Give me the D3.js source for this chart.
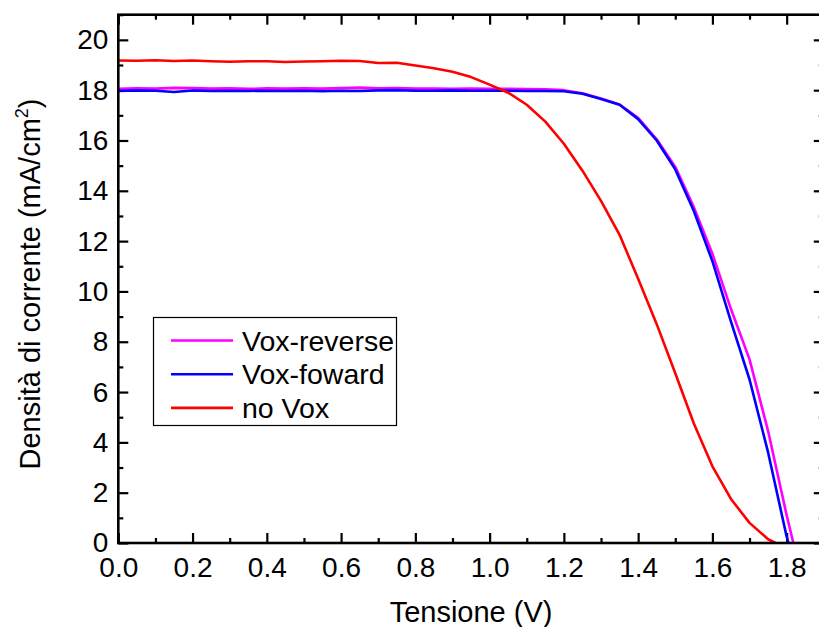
<!DOCTYPE html>
<html lang="it">
  <head>
    <meta charset="utf-8">
    <script src="https://cdn.jsdelivr.net/npm/d3@7"></script>
    <style>
      body { margin: 0; background: #fff; }
      svg { display: block; font-family: "Liberation Sans", Arial, sans-serif; }
      .axis text { font-size: 28px; fill: #000; }
    </style>
  </head>
  <body>
    <svg id="chart" width="819" height="627"></svg>
    <script>

      // tensione (V) e densità di corrente (mA/cm2)
      var vReverse = [0, 0.05, 0.1, 0.15, 0.2, 0.25, 0.3, 0.35, 0.4, 0.45, 0.5, 0.55, 0.6, 0.65,
                      0.7, 0.75, 0.8, 0.85, 0.9, 0.95, 1.0, 1.05, 1.1, 1.15, 1.2, 1.25, 1.3, 1.35,
                      1.4, 1.45, 1.5, 1.55, 1.6, 1.65, 1.7, 1.75, 1.8, 1.818],
          jReverse = [18.05, 18.07, 18.06, 18.09, 18.08, 18.06, 18.07, 18.05, 18.07, 18.06, 18.07, 18.06, 18.08, 18.1,
                      18.07, 18.08, 18.06, 18.06, 18.05, 18.06, 18.05, 18.05, 18.04, 18.03, 18.0, 17.88, 17.67, 17.43,
                      16.9, 16.05, 14.95, 13.35, 11.5, 9.3, 7.3, 4.45, 1.1, 0];

      var vForward = [0, 0.05, 0.1, 0.15, 0.2, 0.25, 0.3, 0.35, 0.4, 0.45, 0.5, 0.55, 0.6, 0.65,
                      0.7, 0.75, 0.8, 0.85, 0.9, 0.95, 1.0, 1.05, 1.1, 1.15, 1.2, 1.25, 1.3, 1.35,
                      1.4, 1.45, 1.5, 1.55, 1.6, 1.65, 1.7, 1.75, 1.8, 1.805],
          jForward = [17.97, 17.99, 17.98, 17.93, 17.99, 17.97, 17.98, 17.97, 17.98, 17.97, 17.98, 17.96, 17.98, 17.97,
                      17.99, 18.0, 17.98, 17.98, 17.99, 17.98, 17.98, 17.98, 17.97, 17.97, 17.96, 17.86, 17.65, 17.42,
                      16.85, 16.0, 14.85, 13.2, 11.2, 8.8, 6.5, 3.6, 0.25, 0];

      var vNoVox = [0, 0.05, 0.1, 0.15, 0.2, 0.25, 0.3, 0.35, 0.4, 0.45, 0.5, 0.55, 0.6, 0.65,
                    0.7, 0.75, 0.8, 0.85, 0.9, 0.95, 1.0, 1.05, 1.1, 1.15, 1.2, 1.25, 1.3, 1.35,
                    1.4, 1.45, 1.5, 1.55, 1.6, 1.65, 1.7, 1.75, 1.77],
          jNoVox = [19.18, 19.17, 19.19, 19.16, 19.18, 19.15, 19.13, 19.15, 19.15, 19.12, 19.14, 19.15, 19.17, 19.16,
                    19.08, 19.09, 18.98, 18.87, 18.73, 18.52, 18.22, 17.9, 17.42, 16.75, 15.87, 14.8, 13.6, 12.25,
                    10.5, 8.7, 6.75, 4.75, 3.05, 1.75, 0.8, 0.15, 0];

      var seriesNames = ["Vox-reverse", "Vox-foward", "no Vox"],
          seriesColors = ["#ff00ff", "#0000ff", "#ff0000"];

      var xTicks = [0, 0.2, 0.4, 0.6, 0.8, 1.0, 1.2, 1.4, 1.6, 1.8],
          xMinor = [0.1, 0.3, 0.5, 0.7, 0.9, 1.1, 1.3, 1.5, 1.7, 1.9],
          yTicks = [0, 2, 4, 6, 8, 10, 12, 14, 16, 18, 20],
          yMinor = [1, 3, 5, 7, 9, 11, 13, 15, 17, 19, 21];

      var series = [
        {name: seriesNames[0], color: seriesColors[0], v: vReverse, j: jReverse},
        {name: seriesNames[1], color: seriesColors[1], v: vForward, j: jForward},
        {name: seriesNames[2], color: seriesColors[2], v: vNoVox, j: jNoVox}
      ];

      var plotL = 118.3, plotR = 823.8, plotT = 14.7, plotB = 543;

      var svg = d3.select("#chart"),
          x = d3.scaleLinear().domain([0, 1.9]).range([plotL, plotR]),
          y = d3.scaleLinear().domain([0, 21]).range([plotB, plotT]);

      function frame(g, axis, size) {
        g.call(axis.tickSize(size));
        g.select(".domain").remove();
        g.selectAll("line").attr("stroke", "#000").attr("stroke-width", 2.2);
      }

      // assi: tacche principali e secondarie verso l'interno, su tutti i lati
      svg.append("g").attr("class", "axis")
        .attr("transform", "translate(0," + plotB + ")")
        .call(frame, d3.axisBottom(x).tickValues(xTicks).tickFormat(d3.format(".1f")).tickPadding(14), -10);
      svg.append("g").attr("class", "axis")
        .attr("transform", "translate(0," + plotB + ")")
        .call(frame, d3.axisBottom(x).tickValues(xMinor).tickFormat(""), -5);
      svg.append("g").attr("class", "axis")
        .attr("transform", "translate(0," + plotT + ")")
        .call(frame, d3.axisTop(x).tickValues(xTicks).tickFormat(""), -10);
      svg.append("g").attr("class", "axis")
        .attr("transform", "translate(0," + plotT + ")")
        .call(frame, d3.axisTop(x).tickValues(xMinor).tickFormat(""), -5);
      svg.append("g").attr("class", "axis")
        .attr("transform", "translate(" + plotL + ",0)")
        .call(frame, d3.axisLeft(y).tickValues(yTicks).tickPadding(10), -10);
      svg.append("g").attr("class", "axis")
        .attr("transform", "translate(" + plotL + ",0)")
        .call(frame, d3.axisLeft(y).tickValues(yMinor).tickFormat(""), -5);
      svg.append("g").attr("class", "axis")
        .attr("transform", "translate(" + plotR + ",0)")
        .call(frame, d3.axisRight(y).tickValues(yTicks).tickFormat(""), -10);
      svg.append("g").attr("class", "axis")
        .attr("transform", "translate(" + plotR + ",0)")
        .call(frame, d3.axisRight(y).tickValues(yMinor).tickFormat(""), -5);

      svg.selectAll(".axis text").attr("fill", "#000");

      var line = d3.line()
        .x(function(d) { return x(d[0]); })
        .y(function(d) { return y(d[1]); });

      svg.append("g")
        .selectAll("path")
        .data(series)
        .enter().append("path")
          .attr("fill", "none")
          .attr("stroke", function(d) { return d.color; })
          .attr("stroke-width", 2.6)
          .attr("stroke-linejoin", "round")
          .attr("d", function(d) {
            return line(d.v.map(function(v, i) { return [v, d.j[i]]; }));
          });

      // cornice
      svg.append("rect")
        .attr("x", plotL)
        .attr("y", plotT)
        .attr("width", plotR - plotL)
        .attr("height", plotB - plotT)
        .attr("fill", "none")
        .attr("stroke", "#000")
        .attr("stroke-width", 2.6);

      // legenda
      var legend = svg.append("g");
      legend.append("rect")
        .attr("x", 153.5)
        .attr("y", 317.5)
        .attr("width", 243)
        .attr("height", 108)
        .attr("fill", "#fff")
        .attr("stroke", "#000")
        .attr("stroke-width", 1.2);

      var rows = legend.selectAll("g.row")
        .data(series)
        .enter().append("g")
          .attr("class", "row")
          .attr("transform", function(d, i) {
            return "translate(0," + (340.5 + i * 33.7) + ")";
          });
      rows.append("line")
        .attr("x1", 171)
        .attr("x2", 233)
        .attr("stroke", function(d) { return d.color; })
        .attr("stroke-width", 2.6);
      rows.append("text")
        .attr("x", 242)
        .attr("y", 10)
        .attr("font-size", 28.5)
        .text(function(d) { return d.name; });

      // titoli degli assi
      svg.append("text")
        .attr("x", (plotL + plotR) / 2)
        .attr("y", 622)
        .attr("text-anchor", "middle")
        .attr("font-size", 29)
        .text("Tensione (V)");

      var yTitle = svg.append("text")
        .attr("transform", "translate(40,284) rotate(-90)")
        .attr("text-anchor", "middle")
        .attr("font-size", 29);
      yTitle.append("tspan").text("Densità di corrente (mA/cm");
      yTitle.append("tspan")
        .attr("font-size", 18)
        .attr("dy", -12)
        .text("2");
      yTitle.append("tspan")
        .attr("dy", 12)
        .text(")");

    </script>
  </body>
</html>
